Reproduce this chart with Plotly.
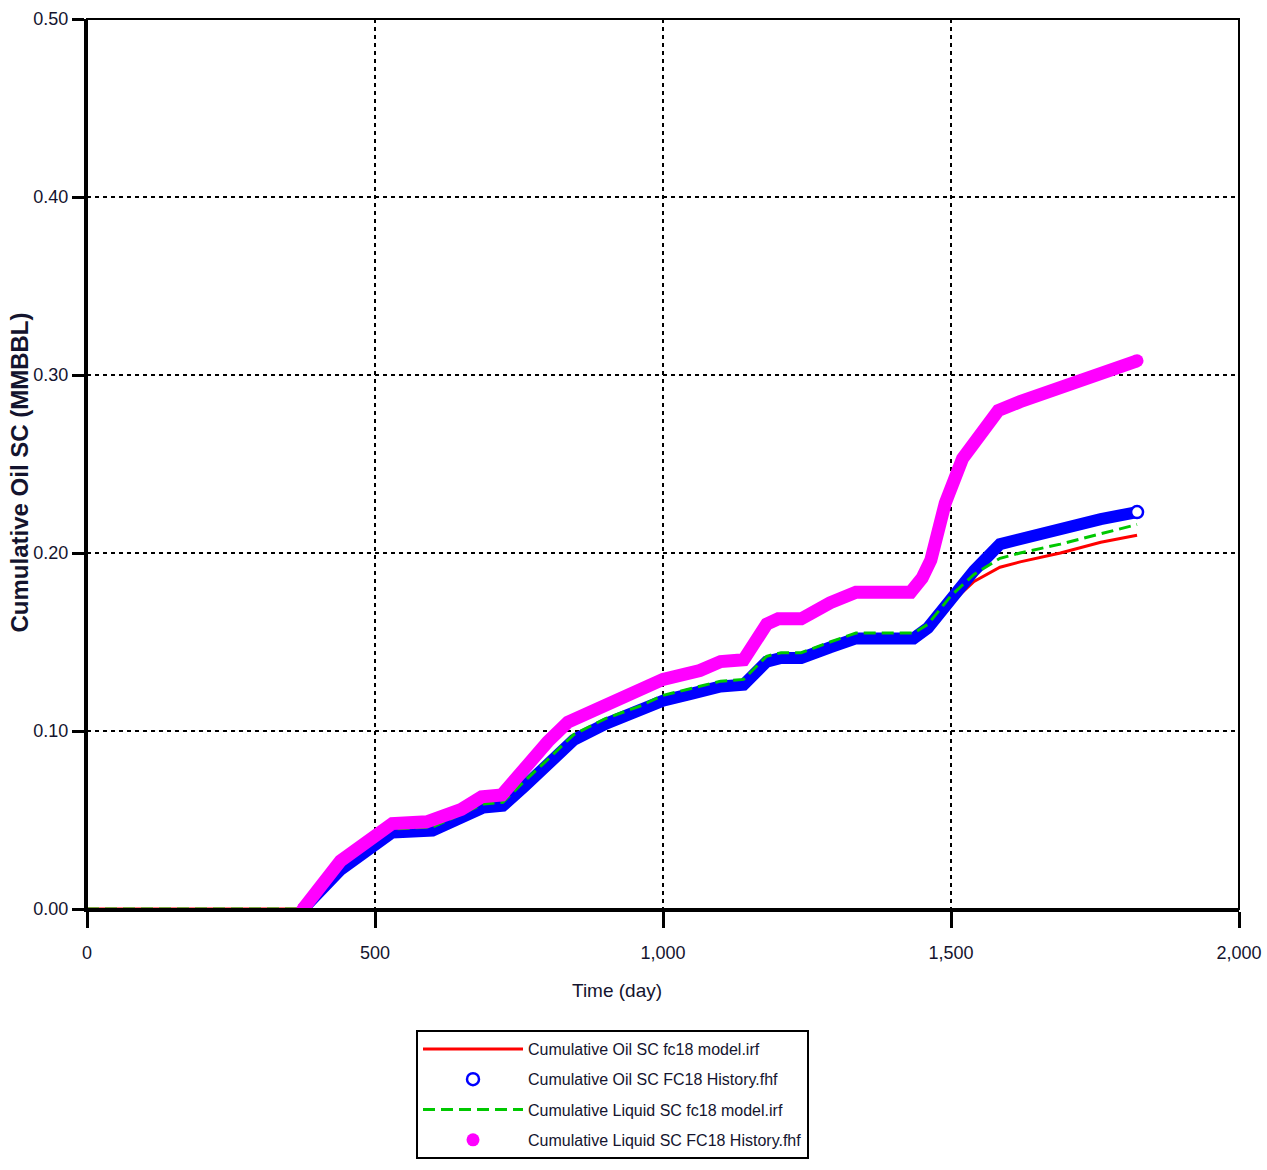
import plotly.graph_objects as go

# ---------------- data ----------------
model_days = [0, 375, 440, 530, 600, 688, 722, 760, 800, 845, 900, 960, 1000, 1050,
              1100, 1140, 1180, 1205, 1240, 1290, 1335, 1435, 1460, 1500, 1540, 1585,
              1620, 1690, 1760, 1823]
oil_model = [0.000, 0.000, 0.022, 0.043, 0.044, 0.057, 0.058, 0.069, 0.081, 0.095,
             0.104, 0.111, 0.117, 0.121, 0.125, 0.126, 0.139, 0.141, 0.141, 0.147,
             0.152, 0.152, 0.158, 0.172, 0.184, 0.192, 0.195, 0.200, 0.206, 0.210]
liq_model = [0.000, 0.000, 0.024, 0.045, 0.046, 0.059, 0.060, 0.072, 0.084, 0.098,
             0.107, 0.114, 0.120, 0.124, 0.128, 0.129, 0.142, 0.144, 0.144, 0.150,
             0.155, 0.155, 0.160, 0.176, 0.188, 0.197, 0.200, 0.205, 0.211, 0.216]

oil_hist_days = [375, 440, 530, 600, 688, 722, 760, 800, 845, 900, 960, 1000, 1050,
                 1100, 1140, 1180, 1205, 1240, 1290, 1335, 1435, 1460, 1500, 1540,
                 1585, 1620, 1690, 1760, 1823]
oil_hist = [0.000, 0.022, 0.043, 0.044, 0.057, 0.058, 0.069, 0.081, 0.095, 0.104,
            0.111, 0.117, 0.121, 0.125, 0.126, 0.139, 0.141, 0.141, 0.147, 0.152,
            0.152, 0.158, 0.174, 0.190, 0.205, 0.208, 0.213, 0.219, 0.223]

liq_hist_days = [375, 440, 530, 590, 650, 685, 720, 765, 800, 835, 890, 950, 1000,
                 1064, 1100, 1140, 1180, 1200, 1240, 1290, 1335, 1430, 1450, 1465,
                 1490, 1520, 1550, 1582, 1620, 1695, 1760, 1823]
liq_hist = [0.000, 0.027, 0.048, 0.049, 0.056, 0.063, 0.064, 0.082, 0.094, 0.105,
            0.113, 0.122, 0.129, 0.134, 0.139, 0.140, 0.160, 0.163, 0.163, 0.172,
            0.178, 0.178, 0.186, 0.196, 0.228, 0.253, 0.267, 0.280, 0.285, 0.294,
            0.301, 0.308]

x_ticks = [0, 500, 1000, 1500, 2000]
x_tick_labels = ["0", "500", "1,000", "1,500", "2,000"]
y_ticks = [0.0, 0.1, 0.2, 0.3, 0.4, 0.5]
y_tick_labels = ["0.00", "0.10", "0.20", "0.30", "0.40", "0.50"]

names = ["Cumulative Oil SC fc18 model.irf",
         "Cumulative Oil SC FC18 History.fhf",
         "Cumulative Liquid SC fc18 model.irf",
         "Cumulative Liquid SC FC18 History.fhf"]

# ---------------- styling ----------------
FONT = "Liberation Sans, Arial, sans-serif"
TXT = "#14142e"
RED = "#ff0000"
BLUE = "#0000ff"
GREEN = "#00c800"
MAGENTA = "#ff00ff"

fig = go.Figure()

fig.add_trace(go.Scatter(x=model_days, y=oil_model, mode="lines", name=names[0],
                         legendgroup="om", line=dict(color=RED, width=3)))
fig.add_trace(go.Scatter(x=oil_hist_days, y=oil_hist, mode="lines", name=names[1],
                         showlegend=False, legendgroup="oh",
                         line=dict(color=BLUE, width=12)))
fig.add_trace(go.Scatter(x=oil_hist_days[-1:], y=oil_hist[-1:], mode="markers",
                         name=names[1], legendgroup="oh",
                         marker=dict(symbol="circle", size=12, color="white",
                                     line=dict(color=BLUE, width=2.5))))
fig.add_trace(go.Scatter(x=model_days, y=liq_model, mode="lines", name=names[2],
                         legendgroup="lm",
                         line=dict(color=GREEN, width=3, dash="12px,6px")))
fig.add_trace(go.Scatter(x=liq_hist_days, y=liq_hist, mode="lines", name=names[3],
                         showlegend=False, legendgroup="lh",
                         line=dict(color=MAGENTA, width=13)))
fig.add_trace(go.Scatter(x=[liq_hist_days[0], liq_hist_days[-1]],
                         y=[liq_hist[0], liq_hist[-1]], mode="markers",
                         name=names[3], legendgroup="lh",
                         marker=dict(symbol="circle", size=13, color=MAGENTA)))

axis_common = dict(showgrid=True, gridcolor="black", gridwidth=1.5, griddash="4px,4px",
                   showline=True, linecolor="black", linewidth=3, zeroline=False,
                   ticks="outside", tickwidth=3, tickcolor="black", automargin=False,
                   tickfont=dict(family=FONT, size=18, color=TXT))

fig.update_xaxes(range=[0, 2000], tickvals=x_ticks, ticktext=x_tick_labels,
                 ticklen=16, ticklabelstandoff=9, **axis_common)
fig.update_yaxes(range=[0, 0.5], tickvals=y_ticks, ticktext=y_tick_labels,
                 ticklen=12, ticklabelstandoff=0, **axis_common)

fig.add_shape(type="rect", xref="paper", yref="paper", x0=0, x1=1, y0=0, y1=1,
              line=dict(color="black", width=2), layer="above")

fig.add_annotation(text="Time (day)", xref="paper", yref="paper",
                   x=(617 - 87) / 1152, y=(910 - 992) / 891, showarrow=False,
                   xanchor="center", yanchor="middle",
                   font=dict(family=FONT, size=19, color=TXT))
fig.add_annotation(text="<b>Cumulative Oil SC (MMBBL)</b>", xref="paper", yref="paper",
                   x=(19 - 87) / 1152, y=(910 - 473) / 891, showarrow=False,
                   textangle=-90, xanchor="center", yanchor="middle",
                   font=dict(family=FONT, size=24, color=TXT))

fig.update_layout(
    width=1267, height=1170,
    margin=dict(l=87, r=28, t=19, b=260),
    plot_bgcolor="white", paper_bgcolor="white",
    showlegend=True,
    legend=dict(x=(416 - 87) / 1152, y=(910 - 1030) / 891, xanchor="left",
                yanchor="top", bordercolor="black", borderwidth=2,
                bgcolor="white", font=dict(family=FONT, size=16, color=TXT),
                itemwidth=100, tracegroupgap=6.5),
)

fig.write_html("out.html")
